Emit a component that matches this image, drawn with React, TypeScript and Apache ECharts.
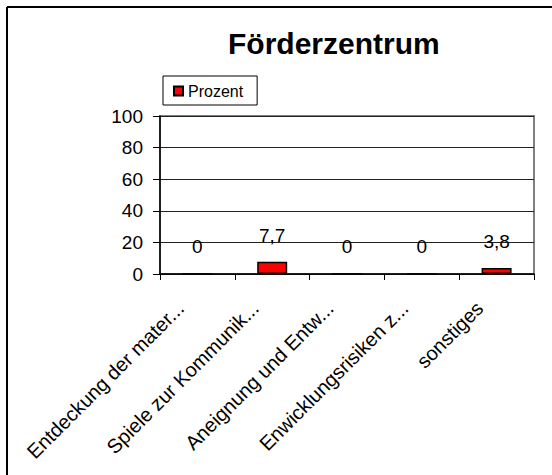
import React, { useEffect, useRef } from "react";
import * as echarts from "echarts";

const categories = [
  "Entdeckung der mater...",
  "Spiele zur Kommunik...",
  "Aneignung und Entw...",
  "Enwicklungsrisiken z...",
  "sonstiges",
];
const values = [0, 7.7, 0, 0, 3.8];
const seriesName = "Prozent";
const titleText = "Förderzentrum";

const FONT = "'Liberation Sans', Arial, sans-serif";

export default function App() {
  const ref = useRef<HTMLDivElement>(null);
  useEffect(() => {
    document.body.style.margin = "0";
    document.body.style.overflow = "hidden";
    document.documentElement.style.overflow = "hidden";
    if (!ref.current) return;
    const chart = echarts.init(ref.current, null, { renderer: "svg" });
    chart.setOption({
      animation: false,
      backgroundColor: "#ffffff",
      textStyle: { fontFamily: FONT },
      title: {
        text: titleText,
        left: 228,
        top: 28,
        padding: 0,
        textStyle: { fontSize: 30, fontWeight: "bold", color: "#000", fontFamily: FONT },
      },
      legend: {
        left: 163,
        top: 76,
        padding: [7, 14, 6, 10],
        borderColor: "#000",
        borderWidth: 1,
        backgroundColor: "#fff",
        itemWidth: 9,
        itemHeight: 9,
        itemGap: 5,
        icon: "rect",
        textStyle: { fontSize: 16, color: "#000", fontFamily: FONT },
        data: [seriesName],
      },
      graphic: [
        {
          type: "line",
          shape: { x1: 7, y1: 7, x2: 560, y2: 7 },
          style: { stroke: "#000", lineWidth: 2 },
          silent: true,
          z: 100,
        },
        {
          type: "line",
          shape: { x1: 7, y1: 7, x2: 7, y2: 480 },
          style: { stroke: "#000", lineWidth: 2 },
          silent: true,
          z: 100,
        },
        {
          type: "rect",
          shape: { x: 160, y: 116, width: 374, height: 158 },
          style: { fill: "none", stroke: "#808080", lineWidth: 2 },
          silent: true,
          z: -1,
        },
      ],
      grid: { left: 160, right: 18, top: 116, bottom: 201, containLabel: false },
      xAxis: {
        type: "category",
        data: categories,
        boundaryGap: true,
        axisLine: { show: true, lineStyle: { color: "#000", width: 1.5 } },
        axisTick: { show: true, length: 6, alignWithLabel: false, lineStyle: { color: "#000" } },
        axisLabel: {
          rotate: 45,
          interval: 0,
          margin: 14,
          fontSize: 20,
          color: "#000",
          fontFamily: FONT,
          padding: [0, 24, 0, 0],
        },
      },
      yAxis: {
        type: "value",
        min: 0,
        max: 100,
        interval: 20,
        axisLine: { show: true, lineStyle: { color: "#000", width: 1.5 } },
        axisTick: { show: true, length: 7, lineStyle: { color: "#000" } },
        axisLabel: { fontSize: 19, color: "#000", margin: 17, fontFamily: FONT },
        splitLine: { show: true, lineStyle: { color: "#222", width: 1 } },
      },
      series: [
        {
          name: seriesName,
          type: "bar",
          data: values,
          barWidth: 30,
          itemStyle: { color: "#ff0000", borderColor: "#000", borderWidth: 1.5 },
          label: {
            show: true,
            position: "top",
            distance: 17,
            fontSize: 19,
            color: "#000",
            fontFamily: FONT,
            formatter: (p: any) => String(p.value).replace(".", ","),
          },
        },
      ],
    });
    return () => chart.dispose();
  }, []);
  return (
    <div
      ref={ref}
      style={{ position: "absolute", left: 0, top: 0, width: 552, height: 475 }}
    />
  );
}
